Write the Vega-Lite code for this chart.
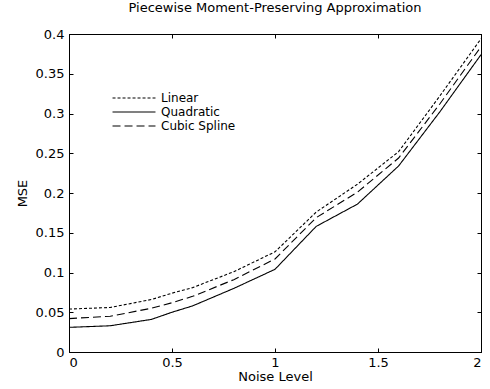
{
  "$schema": "https://vega.github.io/schema/vega-lite/v6.json",
  "width": 412,
  "height": 318,
  "autosize": "none",
  "padding": {"left": 69, "top": 34, "right": 9, "bottom": 37},
  "background": "white",
  "title": {"text": "Piecewise Moment-Preserving Approximation", "font": "DejaVu Sans", "fontSize": 13, "fontWeight": "normal", "color": "black", "offset": 13, "anchor": "middle"},
  "config": {
    "view": {"stroke": "black", "strokeWidth": 1},
    "axis": {"labelFont": "DejaVu Sans", "labelFontSize": 13, "labelColor": "black", "titleFont": "DejaVu Sans", "titleFontSize": 13, "titleFontWeight": "normal", "titleColor": "black", "grid": false, "domainColor": "black", "tickColor": "black", "tickSize": -4, "labelPadding": 8}
  },
  "data": {"values": [
    {"noise": 0, "mse": 0.054, "method": "Linear"},
    {"noise": 0.2, "mse": 0.056, "method": "Linear"},
    {"noise": 0.4, "mse": 0.066, "method": "Linear"},
    {"noise": 0.5, "mse": 0.074, "method": "Linear"},
    {"noise": 0.6, "mse": 0.081, "method": "Linear"},
    {"noise": 0.8, "mse": 0.101, "method": "Linear"},
    {"noise": 1.0, "mse": 0.126, "method": "Linear"},
    {"noise": 1.2, "mse": 0.176, "method": "Linear"},
    {"noise": 1.4, "mse": 0.211, "method": "Linear"},
    {"noise": 1.6, "mse": 0.252, "method": "Linear"},
    {"noise": 1.8, "mse": 0.322, "method": "Linear"},
    {"noise": 2.0, "mse": 0.394, "method": "Linear"},
    {"noise": 0, "mse": 0.031, "method": "Quadratic"},
    {"noise": 0.2, "mse": 0.033, "method": "Quadratic"},
    {"noise": 0.4, "mse": 0.041, "method": "Quadratic"},
    {"noise": 0.5, "mse": 0.05, "method": "Quadratic"},
    {"noise": 0.6, "mse": 0.058, "method": "Quadratic"},
    {"noise": 0.8, "mse": 0.08, "method": "Quadratic"},
    {"noise": 1.0, "mse": 0.104, "method": "Quadratic"},
    {"noise": 1.2, "mse": 0.158, "method": "Quadratic"},
    {"noise": 1.4, "mse": 0.186, "method": "Quadratic"},
    {"noise": 1.6, "mse": 0.234, "method": "Quadratic"},
    {"noise": 1.8, "mse": 0.302, "method": "Quadratic"},
    {"noise": 2.0, "mse": 0.374, "method": "Quadratic"},
    {"noise": 0, "mse": 0.042, "method": "Cubic Spline"},
    {"noise": 0.2, "mse": 0.045, "method": "Cubic Spline"},
    {"noise": 0.4, "mse": 0.055, "method": "Cubic Spline"},
    {"noise": 0.5, "mse": 0.062, "method": "Cubic Spline"},
    {"noise": 0.6, "mse": 0.07, "method": "Cubic Spline"},
    {"noise": 0.8, "mse": 0.091, "method": "Cubic Spline"},
    {"noise": 1.0, "mse": 0.117, "method": "Cubic Spline"},
    {"noise": 1.2, "mse": 0.169, "method": "Cubic Spline"},
    {"noise": 1.4, "mse": 0.201, "method": "Cubic Spline"},
    {"noise": 1.6, "mse": 0.244, "method": "Cubic Spline"},
    {"noise": 1.8, "mse": 0.312, "method": "Cubic Spline"},
    {"noise": 2.0, "mse": 0.384, "method": "Cubic Spline"}
  ]},
  "layer": [
    {
      "mark": {"type": "line", "color": "black", "strokeWidth": 1.1},
      "encoding": {
        "x": {"field": "noise", "type": "quantitative", "scale": {"domain": [0, 2], "nice": false}, "axis": {"title": "Noise Level", "values": [0, 0.5, 1, 1.5, 2], "format": "~g", "titlePadding": 1}},
        "y": {"field": "mse", "type": "quantitative", "scale": {"domain": [0, 0.4], "nice": false, "zero": true}, "axis": {"title": "MSE", "values": [0, 0.05, 0.1, 0.15, 0.2, 0.25, 0.3, 0.35, 0.4], "format": "~g", "labelPadding": 9, "titlePadding": 6}},
        "strokeDash": {"field": "method", "type": "nominal", "scale": {"domain": ["Linear", "Quadratic", "Cubic Spline"], "range": [[3, 2], [1, 0], [8, 4]]}, "legend": {"title": null, "orient": "none", "legendX": 57, "legendY": 56, "symbolType": "M-3,0H3", "symbolSize": 205, "symbolStrokeColor": "black", "symbolStrokeWidth": 1.1, "labelFont": "DejaVu Sans", "labelFontSize": 12, "labelColor": "black", "rowPadding": -1, "labelOffset": 19}}
      }
    },
    {
      "mark": {"type": "line", "opacity": 0},
      "encoding": {
        "x": {"field": "noise", "type": "quantitative", "axis": {"orient": "top", "labels": false, "title": null, "values": [0, 0.5, 1, 1.5, 2]}},
        "y": {"field": "mse", "type": "quantitative", "axis": {"orient": "right", "labels": false, "title": null, "values": [0, 0.05, 0.1, 0.15, 0.2, 0.25, 0.3, 0.35, 0.4]}}
      }
    }
  ],
  "resolve": {"axis": {"x": "independent", "y": "independent"}}
}
